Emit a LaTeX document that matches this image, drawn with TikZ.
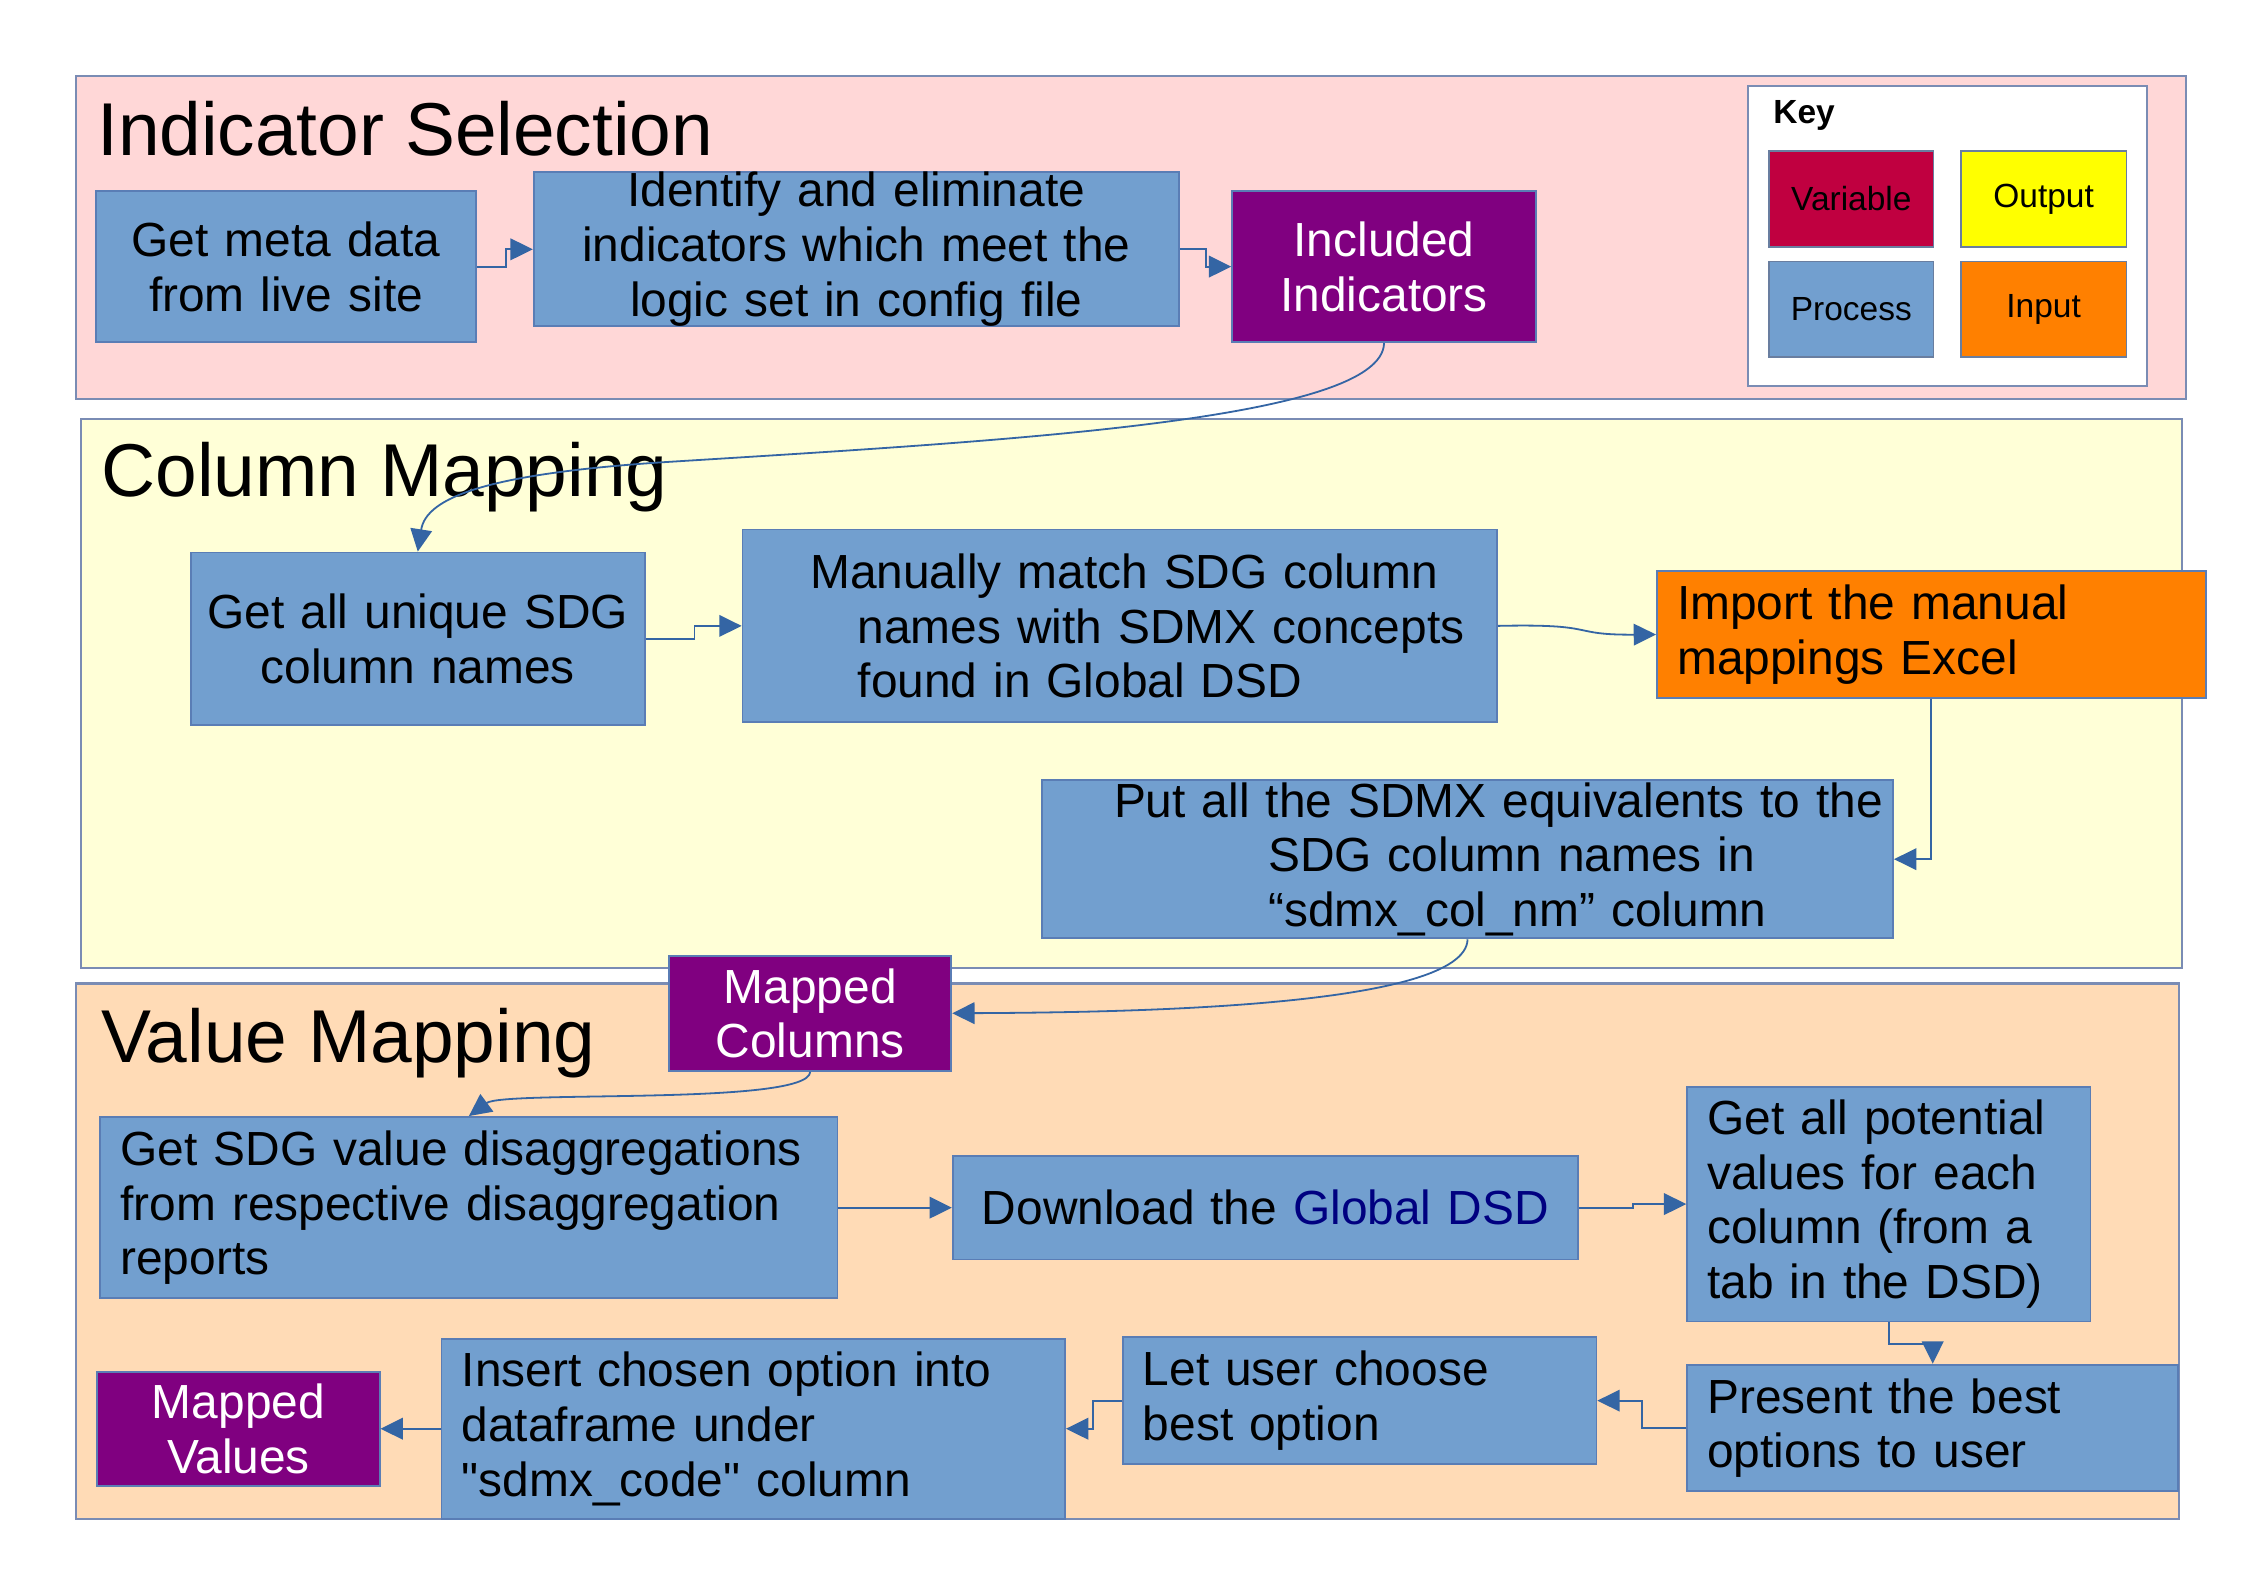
\documentclass[tikz,border=0pt]{standalone}
\usepackage{fontspec}
\setmainfont{Liberation Sans}[Ligatures=TeXOff]
\usetikzlibrary{arrows.meta,calc}
\definecolor{procblue}{HTML}{729FCF}
\definecolor{lineblue}{HTML}{3465A4}
\definecolor{varpurple}{HTML}{800080}
\definecolor{inorange}{HTML}{FF8000}
\definecolor{keycrimson}{HTML}{C00040}
\definecolor{outyellow}{HTML}{FFFF00}
\definecolor{pinkbg}{HTML}{FFD7D7}
\definecolor{yellowbg}{HTML}{FFFFD7}
\definecolor{peachbg}{HTML}{FFDBB6}
\definecolor{framecol}{HTML}{7A8CB4}
\definecolor{boxline}{HTML}{5A7DB5}
\definecolor{navytext}{HTML}{000080}
% name, x1, y1, x2, y2, style, text  (left/right padding 5.6pt)
\newcommand\bx[7]{%
  \pgfmathsetmacro\bxw{(#4-#2)*0.4}%
  \pgfmathsetmacro\bxh{(#5-#3)*0.4}%
  \pgfmathsetmacro\bxt{(#4-#2)*0.4-11.2}%
  \node[#6, inner xsep=5.6pt, minimum width=\bxw pt, minimum height=\bxh pt, text width=\bxt pt, anchor=north west] (#1) at (#2,#3) {#7};%
}
% centred variant with small padding
\newcommand\cbx[7]{%
  \pgfmathsetmacro\bxw{(#4-#2)*0.4}%
  \pgfmathsetmacro\bxh{(#5-#3)*0.4}%
  \pgfmathsetmacro\bxt{(#4-#2)*0.4-2}%
  \node[#6, inner xsep=1pt, minimum width=\bxw pt, minimum height=\bxh pt, text width=\bxt pt, anchor=north west] (#1) at (#2,#3) {#7};%
}
\begin{document}
\begin{tikzpicture}[x=0.4pt,y=-0.4pt,
  section/.style={draw=framecol, line width=0.6pt},
  boxbase/.style={draw=boxline, line width=0.5pt, inner ysep=0pt,
    font=\fontsize{13.3}{15.2}\selectfont},
  proc/.style={boxbase, fill=procblue, align=center},
  procl/.style={boxbase, fill=procblue, align=left},
  var/.style={boxbase, fill=varpurple, text=white, align=center},
  inp/.style={boxbase, fill=inorange, align=left},
  keybox/.style={draw=boxline!60!gray, line width=0.5pt, inner ysep=0pt,
    font=\fontsize{9.3}{11}\selectfont, align=center},
  title/.style={font=\fontsize{20.8}{24}\selectfont, anchor=base west, inner sep=0pt},
  conn/.style={draw=lineblue, line width=0.5pt, -{Triangle[length=6.2pt,width=6pt]}}
]
\useasboundingbox (0,0) rectangle (1559,1102);
\fill[white] (0,0) rectangle (1559,1102);

% sections
\filldraw[section, fill=pinkbg] (53,53) rectangle (1518,277);
\filldraw[section, fill=yellowbg] (56,291) rectangle (1515,672);
\filldraw[section, fill=peachbg] (53,683) rectangle (1513,1055);

\node[title] (t1) at (67,108) {Indicator Selection};
\node[title] (t2) at (70,345) {Column Mapping};
\node[title] (t3) at (70,738) {Value Mapping};

% key
\filldraw[draw=framecol, line width=0.6pt, fill=white] (1214,60) rectangle (1491,268);
\node[anchor=base west, inner sep=0pt, font=\fontsize{9.3}{11}\selectfont\bfseries] (keyt) at (1231,86) {Key};
\cbx{kvar}{1228}{104}{1342}{171}{keybox, fill=keycrimson}{Variable}
\cbx{kout}{1361}{104}{1476}{171}{keybox, fill=outyellow}{Output}
\cbx{kproc}{1228}{181}{1342}{247}{keybox, fill=procblue}{Process}
\cbx{kin}{1361}{181}{1476}{247}{keybox, fill=inorange}{Input}

% Indicator selection
\cbx{meta}{66}{132}{330}{237}{proc}{Get meta data\\from live site}
\cbx{ident}{370}{119}{818}{224}{proc}{Identify and eliminate\\indicators which meet the\\logic set in config file}
\cbx{incl}{855}{132}{1066}{237}{var}{Included\\Indicators}

% Column mapping
\cbx{getall}{132}{383}{447}{503}{proc}{Get all unique SDG\\column names}
\bx{manual}{515}{367}{1039}{501}{procl}{\hspace*{13.2pt}\mbox{Manually match SDG column}\\\hspace*{26.4pt}\mbox{names with SDMX concepts}\\\hspace*{26.4pt}found in Global DSD}
\bx{import}{1150}{396}{1531}{484}{inp}{Import the manual\\mappings Excel}
\bx{put}{723}{541}{1314}{651}{procl}{\hspace*{14.4pt}\mbox{Put all the SDMX equivalents to the}\\\hspace*{57.2pt}SDG column names in\\\hspace*{57.2pt}“sdmx\_col\_nm” column}

% Value mapping
\cbx{mcol}{464}{663}{660}{743}{var}{Mapped\\Columns}
\bx{getsdg}{69}{775}{581}{901}{procl}{\mbox{Get SDG value disaggregations}\\\mbox{from respective disaggregation}\\reports}
\cbx{down}{661}{802}{1095}{874}{proc}{Download the \textcolor{navytext}{Global DSD}}
\bx{pot}{1171}{754}{1451}{917}{procl}{Get all potential\\values for each\\column (from a\\tab in the DSD)}
\bx{pres}{1171}{947}{1512}{1035}{procl}{Present the best\\options to user}
\bx{letu}{779}{928}{1108}{1016}{procl}{Let user choose\\best option}
\bx{ins}{306}{929}{739}{1054}{procl}{Insert chosen option into\\dataframe under\\"sdmx\_code" column}
\cbx{mval}{67}{952}{263}{1031}{var}{Mapped\\Values}

% connectors
\draw[conn] (meta.east) -- ++(20,0) |- (ident.west);
\draw[conn] (ident.east) -- ++(18,0) |- (incl.west);
\draw[conn] (incl.south) .. controls (960,292) and (700,306) .. (460,321)
  .. controls (340,329) and (296,345) .. (getall.north);
\draw[conn] (getall.east) -- ++(34,0) |- (manual.west);
\draw[conn] (manual.east) .. controls (1112,433) and (1088,441) .. (import.west);
\draw[conn] (import.south) |- (put.east);
\draw[conn] (put.south) .. controls (1018,700) and (780,703) .. (mcol.east);
\draw[conn] (mcol.south) .. controls (562,768) and (350,757) .. (getsdg.north);
\draw[conn] (getsdg.east) -- (down.west);
\draw[conn] (down.east) -- ++(38,0) |- (pot.west);
\draw[conn] (pot.south) -- ++(0,15) -| (pres.north);
\draw[conn] (pres.west) -- ++(-31,0) |- (letu.east);
\draw[conn] (letu.west) -- ++(-20,0) |- (ins.east);
\draw[conn] (ins.west) -- (mval.east);
\end{tikzpicture}
\end{document}
